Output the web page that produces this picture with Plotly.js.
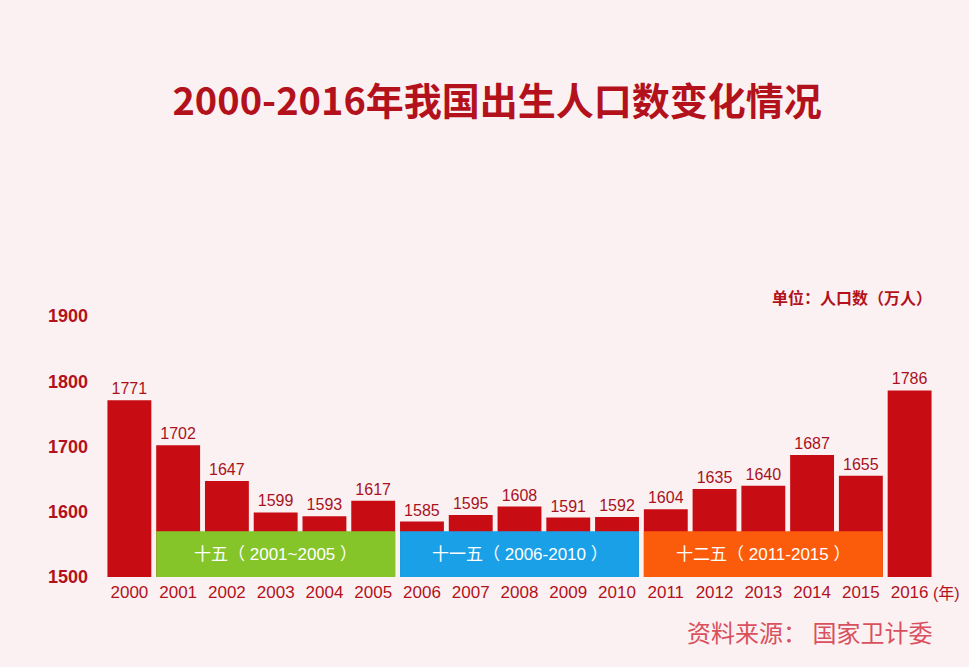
<!DOCTYPE html>
<html><head><meta charset="utf-8">
<script src="https://cdn.plot.ly/plotly-3.0.1.min.js"></script>
<style>html,body{margin:0;padding:0;background:#fbf1f2;}</style>
</head><body>
<div id="chart" style="width:969px;height:667px;"></div>
<script>
const years = ["2000","2001","2002","2003","2004","2005","2006","2007","2008","2009","2010","2011","2012","2013","2014","2015","2016"];
const births = [1771,1702,1647,1599,1593,1617,1585,1595,1608,1591,1592,1604,1635,1640,1687,1655,1786];
const yTicks = [1500,1600,1700,1800,1900];
const planNames = ["十五（ 2001~2005 ）","十一五（ 2006-2010 ）","十二五（ 2011-2015 ）"];
const planStart = ["2001","2006","2011"];
const planEnd = ["2005","2010","2015"];
const planColors = ["#86c52a","#1aa0e6","#fb5c0c"];

const FONT = '"Liberation Sans", Arial, "Noto Sans CJK SC", sans-serif';
const DARK = '#b3121c';
const bandTop = 1570;
const halfW = 0.45;

const shapes = [], annotations = [];
planNames.forEach((name, i) => {
  const x0 = years.indexOf(planStart[i]) - halfW;
  const x1 = years.indexOf(planEnd[i]) + halfW;
  shapes.push({type:'rect', xref:'x', yref:'y', x0:x0, x1:x1, y0:1498, y1:bandTop,
    fillcolor:planColors[i], line:{width:0}, layer:'above'});
  annotations.push({xref:'x', yref:'y', x:(x0+x1)/2, y:(1498+bandTop)/2, text:name,
    showarrow:false, font:{family:FONT, size:17, color:'#ffffff'}});
});
annotations.push({xref:'paper', yref:'paper', x:1.0, xanchor:'right', y:1.073, yanchor:'middle',
  text:'单位：人口数（万人）', showarrow:false, font:{family:'"Noto Sans CJK SC", sans-serif', size:16, color:DARK, weight:'bold'}});
annotations.push({xref:'paper', yref:'paper', x:0.996, xanchor:'left', y:-0.062, yanchor:'middle',
  text:'(年)', showarrow:false, font:{family:FONT, size:16, color:DARK}});
annotations.push({xref:'paper', yref:'paper', x:1.0, xanchor:'right', y:-0.21, yanchor:'middle',
  text:'资料来源： 国家卫计委', showarrow:false, font:{family:'"Noto Sans CJK SC", sans-serif', size:24, color:'#d9505e'}});

const trace = {
  type:'bar', x:years, y:births,
  marker:{color:'#c70c14', line:{width:0}},
  text:births.map(String), textposition:'outside', cliponaxis:false,
  textfont:{family:FONT, size:16, color:'#a8121e'},
  hoverinfo:'x+y'
};

const layout = {
  width:969, height:667, autosize:false,
  paper_bgcolor:'#fbf1f2', plot_bgcolor:'#fbf1f2',
  margin:{l:105, r:35, t:316, b:90},
  bargap:0.1,
  showlegend:false,
  title:{text:'2000-2016年我国出生人口数变化情况', x:0.473, xref:'paper', xanchor:'center',
    y:1-102/667, yref:'container', yanchor:'middle',
    font:{family:'"Noto Sans CJK SC", sans-serif', size:38, color:DARK, weight:'bold'}},
  xaxis:{type:'category', range:[-0.5,16.5], showgrid:false, zeroline:false, showline:false, ticks:'',
    tickfont:{family:FONT, size:17, color:DARK}, ticklabelstandoff:3, fixedrange:true},
  yaxis:{range:[1500,1900], tickvals:yTicks, ticktext:yTicks.map(String), showgrid:false, zeroline:false,
    showline:false, ticks:'', ticklabelstandoff:16,
    tickfont:{family:FONT, size:18, color:DARK, weight:'bold'}, fixedrange:true},
  shapes:shapes, annotations:annotations
};
Plotly.newPlot('chart', [trace], layout, {displayModeBar:false, staticPlot:true});
</script>
</body></html>
